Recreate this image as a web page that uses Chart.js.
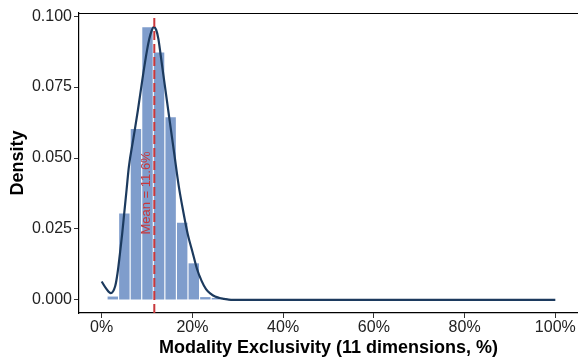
<!DOCTYPE html>
<html>
<head>
<meta charset="utf-8">
<script src="https://cdn.jsdelivr.net/npm/chart.js@4/dist/chart.umd.min.js"></script>
<style>
  html, body { margin: 0; padding: 0; background: #fff; }
  canvas { display: block; }
</style>
</head>
<body>
<canvas id="histChart" width="578" height="361"></canvas>
<script>
// histogram bins (% exclusivity) and their density
const binCenters = [2.45, 5.0, 7.55, 10.1, 12.65, 15.2, 17.75, 20.3, 22.85, 25.4];
const binDensity = [0.0012, 0.0305, 0.0602, 0.0961, 0.0872, 0.0644, 0.0272, 0.0129, 0.0010, 0.0007];

// kernel density curve
const densityX = [0, 1, 2, 3, 3.5, 4, 4.5, 5, 5.5, 6, 7, 8, 9, 10, 10.5, 11, 11.5, 12, 12.5, 13,
  14, 15, 16, 17, 18, 19, 20, 21, 22, 23, 24, 25, 26, 27, 28, 29, 40, 60, 80, 100];
const densityY = [0.0065, 0.0040, 0.0024, 0.0050, 0.0095, 0.0160, 0.0230, 0.0310, 0.0390, 0.0470,
  0.0570, 0.0670, 0.0780, 0.0880, 0.0920, 0.0948, 0.0961, 0.0952, 0.0920, 0.0863,
  0.0746, 0.0630, 0.0515, 0.0400, 0.0310, 0.0230, 0.0170, 0.0110, 0.0068, 0.0038,
  0.0022, 0.0012, 0.0007, 0.0004, 0.0001, 0, 0, 0, 0, 0];

const meanValue = 11.6;
const xTicks = [0, 20, 40, 60, 80, 100];
const yTicks = [0, 0.025, 0.05, 0.075, 0.1];

const FONT = "'Liberation Sans', Arial, sans-serif";
const Y_MIN = -0.0046, Y_MAX = 0.1011;

// ── extra drawing: top border + rotated mean label ──
const extras = {
  id: 'extras',
  afterDatasetsDraw(chart) {
    const { ctx, chartArea, scales } = chart;
    ctx.save();
    ctx.strokeStyle = '#000';
    ctx.lineWidth = 1;
    ctx.beginPath();
    ctx.moveTo(chartArea.left, chartArea.top + 0.5);
    ctx.lineTo(chartArea.right, chartArea.top + 0.5);
    ctx.stroke();

    const x = scales.x.getPixelForValue(meanValue) - 8;
    const y = scales.y.getPixelForValue(0.0377);
    ctx.translate(x, y);
    ctx.rotate(-Math.PI / 2);
    ctx.fillStyle = '#c8373b';
    ctx.font = '13px ' + FONT;
    ctx.textAlign = 'center';
    ctx.textBaseline = 'middle';
    ctx.fillText('Mean = ' + meanValue + '%', 0, 0);
    ctx.restore();
  }
};

new Chart(document.getElementById('histChart'), {
  type: 'bar',
  data: {
    datasets: [
      {
        type: 'line',
        data: [{ x: meanValue, y: Y_MIN }, { x: meanValue, y: Y_MAX }],
        borderColor: '#c8373b',
        borderWidth: 2,
        borderDash: [9, 4],
        pointRadius: 0,
        order: 1
      },
      {
        type: 'line',
        data: densityX.map((x, i) => ({ x, y: densityY[i] })),
        borderColor: '#1c3a5e',
        borderWidth: 2.2,
        pointRadius: 0,
        cubicInterpolationMode: 'monotone',
        fill: false,
        order: 2
      },
      {
        data: binCenters.map((x, i) => ({ x, y: binDensity[i] })),
        backgroundColor: '#7f9dcc',
        borderWidth: 0,
        barPercentage: 0.9,
        categoryPercentage: 1,
        order: 3
      }
    ]
  },
  options: {
    responsive: false,
    animation: false,
    devicePixelRatio: 1,
    layout: { padding: { left: 0, right: 0, top: 13, bottom: 0 } },
    plugins: { legend: { display: false }, tooltip: { enabled: false } },
    scales: {
      x: {
        type: 'linear',
        min: -5,
        max: 105,
        offset: false,
        afterBuildTicks: s => { s.ticks = xTicks.map(v => ({ value: v })); },
        afterFit: s => { s.height = 48; },
        grid: { drawOnChartArea: false, offset: false, tickLength: 5, tickColor: '#333', tickWidth: 1 },
        border: { color: '#000', width: 1.2 },
        ticks: {
          color: '#222',
          padding: 0,
          maxRotation: 0,
          font: { family: FONT, size: 16 },
          callback: v => v + '%'
        },
        title: {
          display: true,
          text: 'Modality Exclusivity (11 dimensions, %)',
          color: '#000',
          font: { family: FONT, size: 18, weight: 'bold' },
          padding: { top: 0, bottom: 2 }
        }
      },
      y: {
        min: Y_MIN,
        max: Y_MAX,
        beginAtZero: false,
        afterBuildTicks: s => { s.ticks = yTicks.map(v => ({ value: v })); },
        afterFit: s => { s.width = 79; },
        grid: { drawOnChartArea: false, tickLength: 5, tickColor: '#333', tickWidth: 1 },
        border: { color: '#000', width: 1.2 },
        ticks: {
          color: '#222',
          padding: 2,
          font: { family: FONT, size: 16 },
          callback: v => v.toFixed(3)
        },
        title: {
          display: true,
          text: 'Density',
          color: '#000',
          font: { family: FONT, size: 18, weight: 'bold' },
          padding: { top: 7, bottom: 0 }
        }
      }
    }
  },
  plugins: [extras]
});
</script>
</body>
</html>
